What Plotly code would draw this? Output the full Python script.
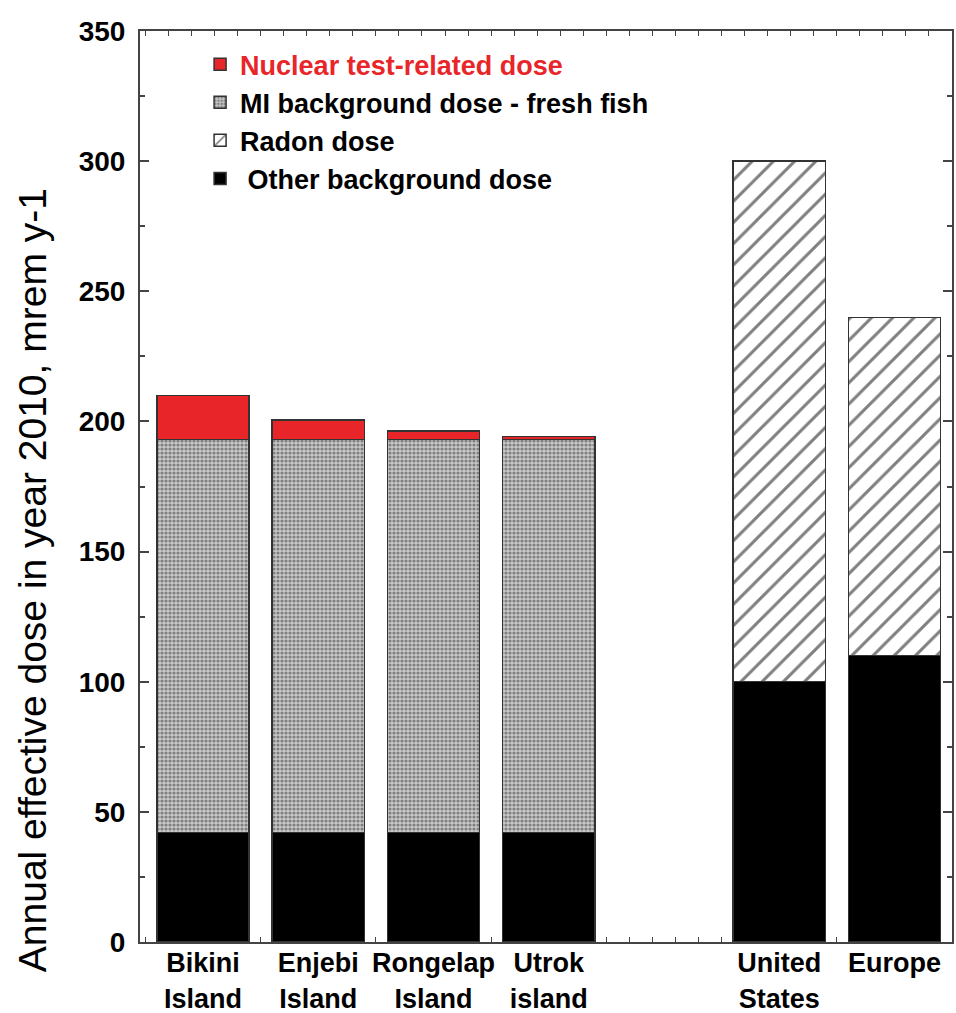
import plotly.graph_objects as go

categories = ["Bikini<br>Island", "Enjebi<br>Island", "Rongelap<br>Island", "Utrok<br>island", "", "United<br>States", "Europe"]
other_bg = [42, 42, 42, 42, None, 100, 110]
radon = [None, None, None, None, None, 200, 130]
mi_bg = [151, 151, 151, 151, None, None, None]
nuclear = [17, 7.5, 3.3, 1.3, None, None, None]

x_pos = list(range(len(categories)))
RED = "#e8262a"
FONT = "Liberation Sans, Arial, Helvetica, sans-serif"
line = dict(color="#333333", width=1.5)

fig = go.Figure()
fig.add_trace(go.Bar(
    x=x_pos, y=other_bg, name="\u00a0Other background dose",
    marker=dict(color="black", line=line), width=0.8))
fig.add_trace(go.Bar(
    x=x_pos, y=radon, name="Radon dose",
    marker=dict(color="white", line=line,
                pattern=dict(shape="/", fgcolor="black", bgcolor="white", size=15, solidity=0.2)),
    width=0.8))
fig.add_trace(go.Bar(
    x=x_pos, y=mi_bg, name="MI background dose - fresh fish",
    marker=dict(color="white", line=line,
                pattern=dict(shape=".", fgcolor="#363636", bgcolor="#c8c8c8", size=4, solidity=0.5)),
    width=0.8))
fig.add_trace(go.Bar(
    x=x_pos, y=nuclear, name="<span style='color:%s'>Nuclear test-related dose</span>" % RED,
    marker=dict(color=RED, line=line), width=0.8))

fig.update_layout(
    barmode="stack",
    width=956, height=1013,
    margin=dict(l=140, r=4, t=31, b=71, autoexpand=False),
    paper_bgcolor="white", plot_bgcolor="white",
    font=dict(family=FONT, color="black"),
    showlegend=True,
    legend=dict(
        x=0.074, y=0.99, xanchor="left", yanchor="top",
        traceorder="reversed",
        font=dict(family=FONT, size=27, color="black", weight="bold"),
        bgcolor="rgba(0,0,0,0)", itemwidth=30, tracegroupgap=0,
    ),
    annotations=[dict(
        text="Annual effective dose in year 2010, mrem y-1",
        xref="paper", yref="paper", x=-0.132, y=0.397,
        xanchor="center", yanchor="middle", textangle=-90, showarrow=False,
        font=dict(family=FONT, size=39, color="black"),
    )],
)

fig.update_xaxes(
    automargin=False,
    range=[-0.547, 6.5],
    tickmode="array", tickvals=x_pos, ticktext=categories,
    ticks="inside", ticklen=0, ticklabelstandoff=-4,
    tickfont=dict(family=FONT, size=27, color="black", weight="bold"),
    showline=True, linecolor="#444444", linewidth=2, mirror="ticks",
    showgrid=False, zeroline=False,
    layer="below traces",
    minor=dict(tick0=-0.5, dtick=0.2, ticks="inside", ticklen=5, tickcolor="#444444", showgrid=False),
)
fig.update_yaxes(
    automargin=False,
    range=[0, 350], dtick=50, tick0=0,
    ticks="inside", ticklen=9, tickwidth=1.5, tickcolor="#444444",
    ticklabelstandoff=7,
    tickfont=dict(family=FONT, size=28, color="black", weight="bold"),
    showline=True, linecolor="#444444", linewidth=2, mirror="ticks",
    showgrid=False, zeroline=False,
    minor=dict(dtick=25, ticks="inside", ticklen=5, tickcolor="#444444", showgrid=False),
)

fig.write_html("out.html", config={"displayModeBar": False},
               post_script="document.body.style.margin='0';document.body.style.overflow='hidden';")
